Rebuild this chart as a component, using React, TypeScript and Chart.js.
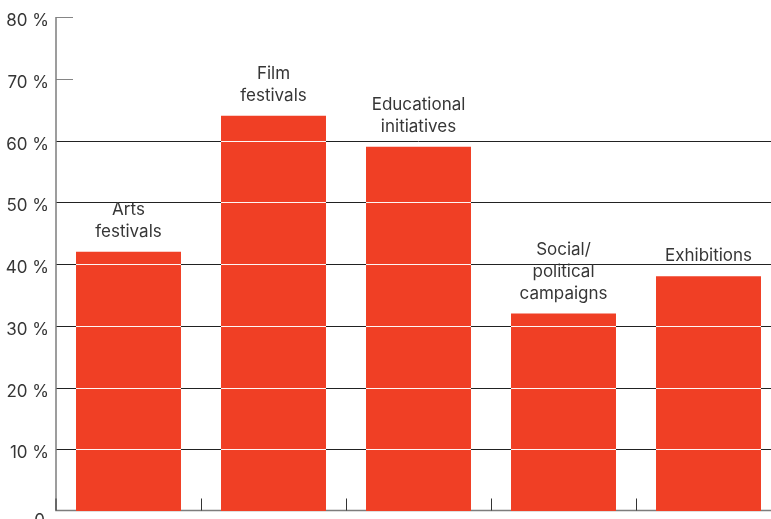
import React, { useEffect, useRef } from "react";
import { Chart, registerables } from "chart.js";

Chart.register(...registerables);

const categoryLines: string[][] = [
  ["Arts", "festivals"],
  ["Film", "festivals"],
  ["Educational", "initiatives"],
  ["Social/", "political", "campaigns"],
  ["Exhibitions"],
];
const values: number[] = [42, 64, 59, 32, 38];
const tickValues: number[] = [0, 10, 20, 30, 40, 50, 60, 70, 80];
const tickLabels: string[] = ["0", "10 %", "20 %", "30 %", "40 %", "50 %", "60 %", "70 %", "80 %"];
const fullGridMax = 60;

const FONT = 'Inter, "Noto Sans", "DejaVu Sans", sans-serif';
const BAR = "#f03f25";
const TEXT = "#363636";

const deco = {
  id: "deco",
  beforeDatasetsDraw(chart: any) {
    const { ctx, chartArea: a, scales } = chart;
    const x = scales.x;
    const y = scales.y;
    ctx.save();
    ctx.lineWidth = 1;
    tickValues.forEach((v) => {
      if (v === 0) return;
      const py = Math.round(y.getPixelForValue(v)) + 0.5;
      ctx.beginPath();
      if (v <= fullGridMax) {
        ctx.strokeStyle = "#222222";
        ctx.moveTo(a.left, py);
        ctx.lineTo(a.right, py);
      } else {
        ctx.strokeStyle = "#858585";
        ctx.moveTo(a.left, py);
        ctx.lineTo(a.left + 17, py);
      }
      ctx.stroke();
    });
    // axes
    const bottom = Math.round(y.getPixelForValue(0)) - 0.5;
    ctx.strokeStyle = "#7d7d7d";
    ctx.lineWidth = 1.5;
    ctx.beginPath();
    ctx.moveTo(a.left, Math.round(y.getPixelForValue(tickValues[tickValues.length - 1])));
    ctx.lineTo(a.left, bottom);
    ctx.lineTo(a.right, bottom);
    ctx.stroke();
    // category separators
    ctx.strokeStyle = "#333333";
    ctx.lineWidth = 1;
    for (let i = 1; i < values.length; i++) {
      const xb = Math.round((x.getPixelForValue(i - 1) + x.getPixelForValue(i)) / 2) + 0.5;
      ctx.beginPath();
      ctx.moveTo(xb, bottom - 12);
      ctx.lineTo(xb, bottom);
      ctx.stroke();
    }
    ctx.beginPath();
    ctx.moveTo(a.left, bottom - 12);
    ctx.lineTo(a.left, bottom);
    ctx.stroke();
    ctx.restore();
  },
  afterDatasetsDraw(chart: any) {
    const { ctx, scales } = chart;
    const y = scales.y;
    const meta = chart.getDatasetMeta(0);
    ctx.save();
    // white grid lines across the bars
    ctx.strokeStyle = "rgba(255,255,255,0.95)";
    ctx.lineWidth = 1;
    meta.data.forEach((bar: any, i: number) => {
      const half = bar.width / 2;
      tickValues.forEach((v) => {
        if (v === 0 || v > fullGridMax || v >= values[i]) return;
        const py = Math.round(y.getPixelForValue(v)) + 0.5;
        ctx.beginPath();
        ctx.moveTo(bar.x - half, py);
        ctx.lineTo(bar.x + half, py);
        ctx.stroke();
      });
    });
    // category labels
    ctx.fillStyle = TEXT;
    ctx.font = `17px ${FONT}`;
    ctx.textAlign = "center";
    ctx.textBaseline = "middle";
    const lh = 22;
    meta.data.forEach((bar: any, i: number) => {
      const lines = categoryLines[i];
      const lastY = bar.y - 20;
      lines.forEach((ln, j) => {
        ctx.fillText(ln, bar.x, lastY - (lines.length - 1 - j) * lh);
      });
    });
    // y tick labels
    ctx.textAlign = "right";
    tickValues.forEach((v, i) => {
      const py = y.getPixelForValue(v);
      if (v === 0) {
        ctx.fillText(tickLabels[i], 45, py + 10);
      } else {
        ctx.fillText(tickLabels[i], 49, py + 4);
      }
    });
    ctx.restore();
  },
};

export default function App() {
  const ref = useRef<HTMLCanvasElement | null>(null);
  useEffect(() => {
    if (!ref.current) return;
    const chart = new Chart(ref.current, {
      type: "bar",
      data: {
        labels: categoryLines.map((l) => l.join(" ")),
        datasets: [
          {
            data: values,
            backgroundColor: BAR,
            borderWidth: 0,
            categoryPercentage: 1,
            barPercentage: 0.724,
          },
        ],
      },
      options: {
        responsive: false,
        animation: false,
        layout: { padding: { left: 56, right: 9, top: 17, bottom: 19 } },
        plugins: { legend: { display: false }, tooltip: { enabled: false } },
        scales: {
          x: { display: false },
          y: { display: false, min: 0, max: 80 },
        },
      },
      plugins: [deco],
    });
    return () => chart.destroy();
  }, []);
  return (
    <div style={{ position: "fixed", left: 0, top: 0, width: 771, height: 519, overflow: "hidden", background: "#fff" }}>
      <canvas ref={ref} width={790} height={530} style={{ display: "block" }} />
    </div>
  );
}
